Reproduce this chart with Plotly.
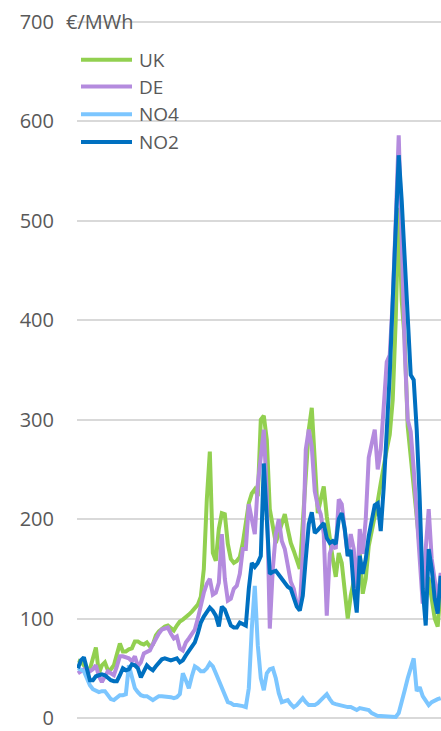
import plotly.graph_objects as go

# Weekly average day-ahead prices, €/MWh (one value per week)
weeks = list(range(122))

uk = [58, 57, 53, 50, 49, 62, 71, 45, 53, 56, 48, 49, 53, 64, 75, 67, 67, 69, 70, 77,
      77, 75, 74, 76, 72, 74, 83, 87, 90, 92, 93, 91, 88, 93, 97, 99, 101, 104, 107, 110,
      114, 122, 150, 220, 268, 166, 158, 190, 206, 205, 175, 160, 156, 158, 162, 176, 196, 216, 226, 230,
      223, 300, 304, 280, 210, 190, 176, 186, 196, 205, 190, 176, 168, 160, 150, 196, 250, 290, 312, 256,
      206, 220, 233, 203, 180, 160, 142, 166, 156, 125, 100, 123, 137, 150, 166, 125, 140, 173, 187, 200,
      218, 236, 256, 270, 285, 320, 400, 513, 420, 380, 293, 262, 235, 205, 175, 142, 143, 140, 120, 100,
      92, 130]

de = [45, 47, 49, 49, 47, 49, 53, 42, 36, 42, 47, 45, 43, 52, 62, 62, 61, 60, 57, 62,
      52, 56, 65, 66, 68, 74, 80, 85, 89, 90, 91, 85, 80, 82, 70, 68, 76, 80, 84, 89,
      100, 114, 126, 135, 140, 124, 126, 136, 185, 140, 118, 120, 130, 133, 145, 170, 170, 215, 200, 185,
      235, 268, 290, 226, 90, 150, 185, 200, 178, 170, 155, 137, 130, 115, 110, 165, 270, 290, 273, 228,
      213, 205, 185, 103, 165, 175, 170, 220, 215, 190, 163, 185, 170, 123, 190, 165, 200, 262, 278, 290,
      250, 270, 313, 358, 365, 420, 500, 586, 480, 370, 300, 288, 250, 200, 150, 115, 170, 210, 160, 140,
      118, 146]

no4 = [50, 49, 47, 40, 33, 29, 27, 26, 27, 27, 23, 19, 18, 20, 23, 23, 24, 53, 40, 30,
       26, 23, 22, 22, 20, 18, 20, 22, 22, 22, 22, 21, 20, 21, 24, 45, 38, 30, 42, 52,
       50, 47, 47, 50, 55, 52, 45, 38, 31, 23, 16, 15, 13, 13, 13, 12, 11, 30, 90, 133,
       73, 40, 28, 45, 49, 50, 40, 25, 16, 17, 18, 14, 11, 13, 16, 20, 16, 13, 13, 13,
       15, 18, 22, 24, 19, 15, 14, 13, 13, 12, 11, 11, 9, 8, 10, 9, 8, 8, 5, 3,
       2, 2, 2, 2, 2, 1, 1, 5, 15, 28, 40, 50, 60, 27, 31, 22, 17, 13, 16, 18,
       19, 20]

no2 = [50, 58, 61, 48, 38, 38, 42, 43, 44, 43, 40, 38, 37, 37, 43, 50, 48, 49, 54, 53,
       50, 41, 47, 53, 50, 48, 52, 56, 59, 60, 59, 58, 59, 60, 56, 58, 63, 67, 71, 76,
       85, 96, 102, 107, 111, 108, 103, 92, 112, 109, 100, 93, 91, 91, 96, 95, 93, 130, 156, 152,
       156, 163, 256, 200, 145, 147, 148, 144, 140, 135, 132, 130, 120, 112, 108, 123, 160, 195, 207, 186,
       189, 193, 196, 181, 176, 178, 175, 200, 206, 190, 163, 169, 130, 106, 163, 145, 160, 183, 200, 214,
       216, 188, 232, 285, 345, 420, 500, 566, 520, 460, 410, 345, 340, 290, 220, 130, 93, 170, 150, 120,
       105, 143]

y_ticks = [0, 100, 200, 300, 400, 500, 600, 700]

series = [
    ("UK", uk, "#92D050"),
    ("DE", de, "#B48BDE"),
    ("NO4", no4, "#7CC6FF"),
    ("NO2", no2, "#0070C0"),
]

TEXT = "#595959"
FONT = "Open Sans"

fig = go.Figure()
for name, vals, color in series:
    fig.add_trace(go.Scatter(
        x=weeks, y=vals, name=name, mode="lines",
        line=dict(color=color, width=4),
        showlegend=False,
    ))

# Plot area geometry in pixels (used to place the hand-drawn legend)
W, H = 441, 731
L, R, T, B = 77, 0, 19, 5
pw, ph = W - L - R, H - T - B
Y0, Y1 = -3, 703


def px_x(x):
    return (x - L) / pw


def px_y(y):
    return (H - B - y) / ph


def val_y(v):
    return (v - Y0) / (Y1 - Y0)


shapes = []
annotations = []

# White boxes behind the unit label and the legend interrupt the gridlines
shapes.append(dict(type="rect", xref="paper", yref="paper", layer="between",
                   x0=px_x(L - 2), x1=px_x(174), y0=px_y(30), y1=px_y(14),
                   fillcolor="white", line=dict(width=0)))
shapes.append(dict(type="rect", xref="paper", yref="paper", layer="between",
                   x0=px_x(L - 2), x1=px_x(192), y0=px_y(130), y1=px_y(114),
                   fillcolor="white", line=dict(width=0)))

legend_y = [60, 87, 115, 143]
for (name, vals, color), ly in zip(series, legend_y):
    shapes.append(dict(type="line", xref="paper", yref="paper", layer="above",
                       x0=px_x(81), x1=px_x(132), y0=px_y(ly), y1=px_y(ly),
                       line=dict(color=color, width=4)))
    annotations.append(dict(text=name, xref="paper", yref="paper",
                            x=px_x(137), y=px_y(ly), xanchor="left", yanchor="middle",
                            showarrow=False, font=dict(family=FONT, size=19, color=TEXT)))

annotations.append(dict(text="€/MWh", xref="paper", yref="paper",
                        x=px_x(64), y=val_y(700), xanchor="left", yanchor="middle",
                        showarrow=False, font=dict(family=FONT, size=20, color=TEXT)))

fig.update_layout(
    width=W, height=H,
    margin=dict(l=L, r=R, t=T, b=B, pad=0),
    paper_bgcolor="white", plot_bgcolor="white",
    font=dict(family=FONT, color=TEXT),
    xaxis=dict(range=[-0.3, 121.1], showgrid=False, zeroline=False,
               showticklabels=False, showline=False, ticks=""),
    yaxis=dict(range=[Y0, Y1], tickvals=y_ticks,
               showgrid=True, gridcolor="#D9D9D9", gridwidth=1.5,
               zeroline=False, showline=False, ticks="",
               ticklabelstandoff=22, ticklabeloverflow="allow",
               tickfont=dict(family=FONT, size=20, color=TEXT)),
    shapes=shapes,
    annotations=annotations,
)

fig.write_html("out.html")
